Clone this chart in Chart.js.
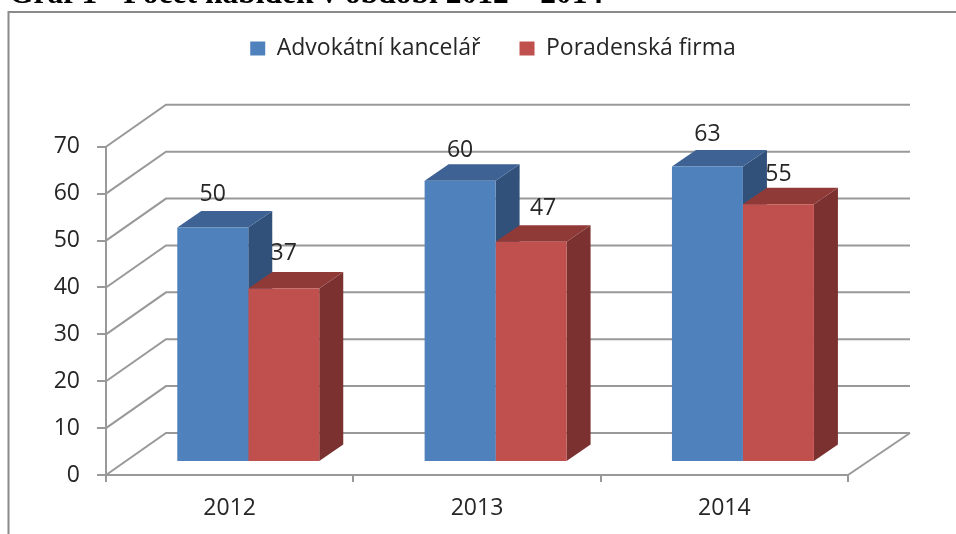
<!DOCTYPE html>
<html><head><meta charset="utf-8">
<style>html,body{margin:0;padding:0;background:#fff;overflow:hidden}
#w{position:absolute;left:0;top:0;width:956px;height:534px}
canvas{filter:blur(0.5px)}</style>
<script src="https://cdn.jsdelivr.net/npm/chart.js@4"></script>
</head><body><div id="w"><canvas id="c" width="956" height="534"></canvas></div>
<script>
const categories=['2012','2013','2014'];
const advokatni=[50,60,63];
const poradenska=[37,47,55];
const yTicks=[0,10,20,30,40,50,60,70];
const seriesNames=['Advokátní kancelář','Poradenská firma'];
const titleText='Graf 1 - Počet nabídek v období 2012 – 2014';
const FONT='"Open Sans"';
const GRID='#999999';
const wall={dx:60,dy:-42,end:910}, front={dx:18.6,dy:-13}, depth={dx:24,dy:-16.5};
const shades=[{top:'#3d6293',side:'#31517b'},{top:'#903a38',side:'#7a312f'}];
const labelNudge=[[[0,-33],[0,-30],[0,-32]],[[0,-35],[12,-33],[0,-30]]];
function faces(c,m,s){
  m.data.forEach(b=>{const l=b.x-b.width/2,r=b.x+b.width/2,t=b.y,bt=b.base;
   c.fillStyle=s.side;c.beginPath();c.moveTo(r,t);c.lineTo(r+depth.dx,t+depth.dy);c.lineTo(r+depth.dx,bt+depth.dy);c.lineTo(r,bt);c.closePath();c.fill();
   c.fillStyle=s.top;c.beginPath();c.moveTo(l,t);c.lineTo(l+depth.dx,t+depth.dy);c.lineTo(r+depth.dx,t+depth.dy);c.lineTo(r,t);c.closePath();c.fill();
  });
}
const p3d={id:'p3d',
 afterLayout(ch){
  const L=ch.legend;L.left=30;L.right=956;L.top=-2;
  const T=ch.titleBlock;T.left=9;T.right=956;T.top=-24;
 },
 beforeDraw(ch){
  const c=ch.ctx;c.save();c.strokeStyle='#8a8a8a';c.lineWidth=2;c.beginPath();
  c.moveTo(8.5,534);c.lineTo(8.5,12);c.lineTo(956,12);c.stroke();c.restore();
 },
 beforeDatasetsDraw(ch){
  const c=ch.ctx,y=ch.scales.y,a=ch.chartArea;
  c.save();c.strokeStyle=GRID;c.lineWidth=2;
  y.ticks.forEach(t=>{const p=y.getPixelForValue(t.value);c.beginPath();
   c.moveTo(a.left,p);c.lineTo(a.left+wall.dx,p+wall.dy);c.lineTo(wall.end,p+wall.dy);c.stroke();});
  c.beginPath();c.moveTo(a.right,a.bottom);c.lineTo(wall.end,a.bottom+wall.dy);c.stroke();
  c.restore();
  c.save();c.translate(front.dx,front.dy);
 },
 beforeDatasetDraw(ch,args){
  if(args.index!==1) return;
  faces(ch.ctx,ch.getDatasetMeta(0),shades[0]);
  faces(ch.ctx,args.meta,shades[1]);
 },
 afterDatasetsDraw(ch){
  const c=ch.ctx;
  c.fillStyle='#262626';c.font='23px '+FONT;c.textAlign='center';c.textBaseline='middle';
  ch.data.datasets.forEach((d,i)=>{ch.getDatasetMeta(i).data.forEach((b,j)=>{
   const n=labelNudge[i][j];c.fillText(String(d.data[j]),b.x+n[0],b.y+n[1]);});});
  c.restore();
 }
};
new Chart(document.getElementById('c'),{
 type:'bar',
 data:{labels:categories,datasets:[
  {label:seriesNames[0],data:advokatni,backgroundColor:'#4f81bd',categoryPercentage:0.574,barPercentage:1},
  {label:seriesNames[1],data:poradenska,backgroundColor:'#c0504d',categoryPercentage:0.574,barPercentage:1}
 ]},
 options:{responsive:false,animation:false,
  layout:{padding:{left:30,right:108,top:37,bottom:9}},
  plugins:{
   title:{display:true,text:titleText,align:'start',color:'#000',font:{family:'"Liberation Serif"',size:31.5,weight:'bold'},padding:{top:0,bottom:0}},
   legend:{position:'top',align:'center',labels:{boxWidth:15,boxHeight:14,padding:39,color:'#262626',font:{family:FONT,size:23}}},
   tooltip:{enabled:false}
  },
  scales:{
   x:{afterFit(s){s.height=50;},
    border:{color:GRID,width:2},
    grid:{display:true,drawOnChartArea:false,drawTicks:true,tickLength:7,color:GRID,lineWidth:2,offset:true},
    ticks:{color:'#262626',font:{family:FONT,size:23},padding:13,maxRotation:0}},
   y:{min:0,max:70,afterFit(s){s.width=76;},
    afterBuildTicks(s){s.ticks=yTicks.map(v=>({value:v}));},
    border:{color:GRID,width:2},
    grid:{display:true,drawOnChartArea:false,drawTicks:true,tickLength:9,color:GRID,lineWidth:2},
    ticks:{color:'#262626',font:{family:FONT,size:23},padding:17}}
  }
 },
 plugins:[p3d]
});
</script></body></html>
